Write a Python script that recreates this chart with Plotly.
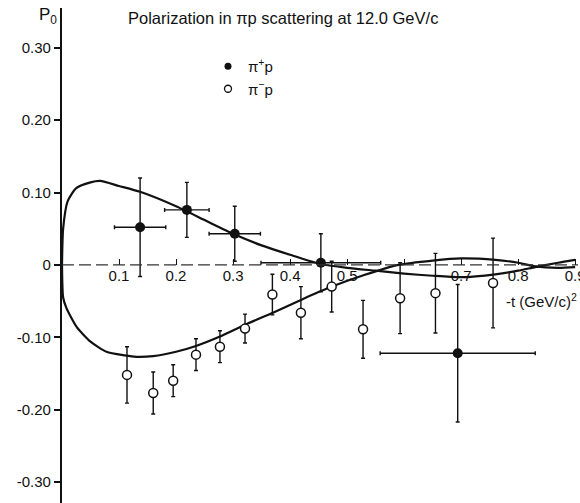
import plotly.graph_objects as go

# ---- data ----
# pi+ p (filled points)
pip_t = [0.137, 0.219, 0.303, 0.454, 0.694]
pip_P = [0.052, 0.076, 0.043, 0.003, -0.122]
pip_dP = [0.068, 0.038, 0.038, 0.040, 0.095]
pip_dt = [0.045, 0.039, 0.045, 0.105, 0.136]

# pi- p (open points)
pim_t = [0.114, 0.160, 0.195, 0.235, 0.277, 0.321, 0.369, 0.419, 0.473, 0.528, 0.593, 0.655, 0.756]
pim_P = [-0.152, -0.177, -0.160, -0.124, -0.113, -0.088, -0.041, -0.066, -0.030, -0.089, -0.046, -0.039, -0.025]
pim_dP = [0.039, 0.029, 0.022, 0.022, 0.022, 0.020, 0.028, 0.036, 0.035, 0.040, 0.049, 0.055, 0.062]

# theoretical curves
cp_t = [0.0, 0.002, 0.01, 0.025, 0.05, 0.067, 0.1, 0.137, 0.2, 0.25, 0.3, 0.35, 0.4, 0.45, 0.5, 0.55, 0.6, 0.65, 0.7, 0.76, 0.8, 0.83, 0.87, 0.9]
cp_P = [0.0, 0.05, 0.088, 0.106, 0.114, 0.116, 0.109, 0.101, 0.081, 0.062, 0.043, 0.027, 0.014, 0.002, -0.004, -0.008, -0.012, -0.015, -0.017, -0.013, -0.008, -0.003, 0.003, 0.007]
cm_t = [0.0, 0.002, 0.008, 0.026, 0.05, 0.078, 0.11, 0.13, 0.16, 0.2, 0.235, 0.277, 0.32, 0.37, 0.42, 0.47, 0.53, 0.59, 0.65, 0.7, 0.76, 0.8, 0.83, 0.87, 0.9]
cm_P = [0.0, -0.045, -0.06, -0.086, -0.106, -0.12, -0.125, -0.127, -0.126, -0.12, -0.112, -0.099, -0.083, -0.066, -0.048, -0.031, -0.014, 0.0, 0.006, 0.009, 0.007, 0.003, -0.002, -0.004, -0.003]

xticks = [0.1, 0.2, 0.3, 0.4, 0.5, 0.6, 0.7, 0.8, 0.9]
xticktext = ["0.1", "0.2", "0.3", "0.4", "0.5", " ", "0.7", "0.8", "0.9"]
yticks = [-0.3, -0.2, -0.1, 0.0, 0.1, 0.2, 0.3]
yticktext = ["-0.30", "-0.20", "-0.10", "0", "0.10", "0.20", "0.30"]

XR = [0.0, 0.905]
YR = [-0.329, 0.355]
FONT = "Liberation Sans"
INK = "#111111"

fig = go.Figure()

fig.add_trace(go.Scatter(x=cp_t, y=cp_P, mode="lines", line=dict(color=INK, width=2.2, shape="spline", smoothing=0.6),
                         showlegend=False, hoverinfo="skip"))
fig.add_trace(go.Scatter(x=cm_t, y=cm_P, mode="lines", line=dict(color=INK, width=2.2, shape="spline", smoothing=0.6),
                         showlegend=False, hoverinfo="skip"))

fig.add_trace(go.Scatter(
    x=pip_t, y=pip_P, mode="markers", showlegend=False,
    marker=dict(symbol="circle", size=10, color=INK),
    error_y=dict(type="data", array=pip_dP, color=INK, thickness=1.4, width=2),
    error_x=dict(type="data", array=pip_dt, color=INK, thickness=1.4, width=2),
))
fig.add_trace(go.Scatter(
    x=pim_t, y=pim_P, mode="markers", showlegend=False,
    marker=dict(symbol="circle", size=9, color="white", line=dict(color=INK, width=1.5)),
    error_y=dict(type="data", array=pim_dP, color=INK, thickness=1.4, width=2),
))

# legend-only entries
fig.add_trace(go.Scatter(x=[None], y=[None], mode="markers", name="π<sup>+</sup>p",
                         marker=dict(symbol="circle", size=7, color=INK)))
fig.add_trace(go.Scatter(x=[None], y=[None], mode="markers", name="π<sup>−</sup>p",
                         marker=dict(symbol="circle-open", size=7, color=INK, line=dict(width=1.3))))

# dashed horizontal axis line at P=0
fig.add_shape(type="line", xref="x", yref="y", x0=XR[0], x1=XR[1], y0=0, y1=0,
              line=dict(color="#333333", width=1.3, dash="12px,5px"))

W, H = 580, 503
ML, MR, MT, MB = 62, 2, 8, 0
pw, ph = W - ML - MR, H - MT - MB

def px(xp):
    return (xp - ML) / pw

def py(yp):
    return (H - MB - yp) / ph

fig.update_layout(
    width=W, height=H,
    margin=dict(l=ML, r=MR, t=MT, b=MB, autoexpand=False),
    paper_bgcolor="white", plot_bgcolor="white",
    font=dict(family=FONT, size=15, color=INK),
    xaxis=dict(range=XR, anchor="free", position=(0 - YR[0]) / (YR[1] - YR[0]),
               tickvals=xticks, ticktext=xticktext, ticks="inside", ticklen=6, tickwidth=1.3,
               tickcolor=INK, showline=False, showgrid=False, zeroline=False,
               ticklabeloverflow="allow", automargin=False,
               tickfont=dict(family=FONT, size=15, color=INK)),
    yaxis=dict(range=YR, tickvals=yticks, ticktext=yticktext, ticks="outside", ticklen=6, tickwidth=1.5,
               tickcolor=INK, showline=True, linewidth=2.2, linecolor=INK, showgrid=False, zeroline=False,
               automargin=False,
               tickfont=dict(family=FONT, size=15, color=INK)),
    legend=dict(x=px(208), y=py(50), xanchor="left", yanchor="top", bgcolor="rgba(0,0,0,0)",
                font=dict(family=FONT, size=15, color=INK), itemwidth=30, tracegroupgap=2),
    annotations=[
        dict(text="Polarization in πp scattering at 12.0 GeV/c", xref="paper", yref="paper",
             x=px(283), y=py(18), xanchor="center", yanchor="middle", showarrow=False,
             font=dict(family=FONT, size=16.5, color=INK)),
        dict(text="P<sub>0</sub>", xref="paper", yref="paper", x=px(48), y=py(16),
             xanchor="center", yanchor="middle", showarrow=False,
             font=dict(family=FONT, size=17, color=INK)),
        dict(text="-t (GeV/c)<sup>2</sup>", xref="paper", yref="paper", x=px(504), y=py(300),
             xanchor="left", yanchor="middle", showarrow=False,
             font=dict(family=FONT, size=15, color=INK)),
    ],
)

fig.write_html("out.html")
